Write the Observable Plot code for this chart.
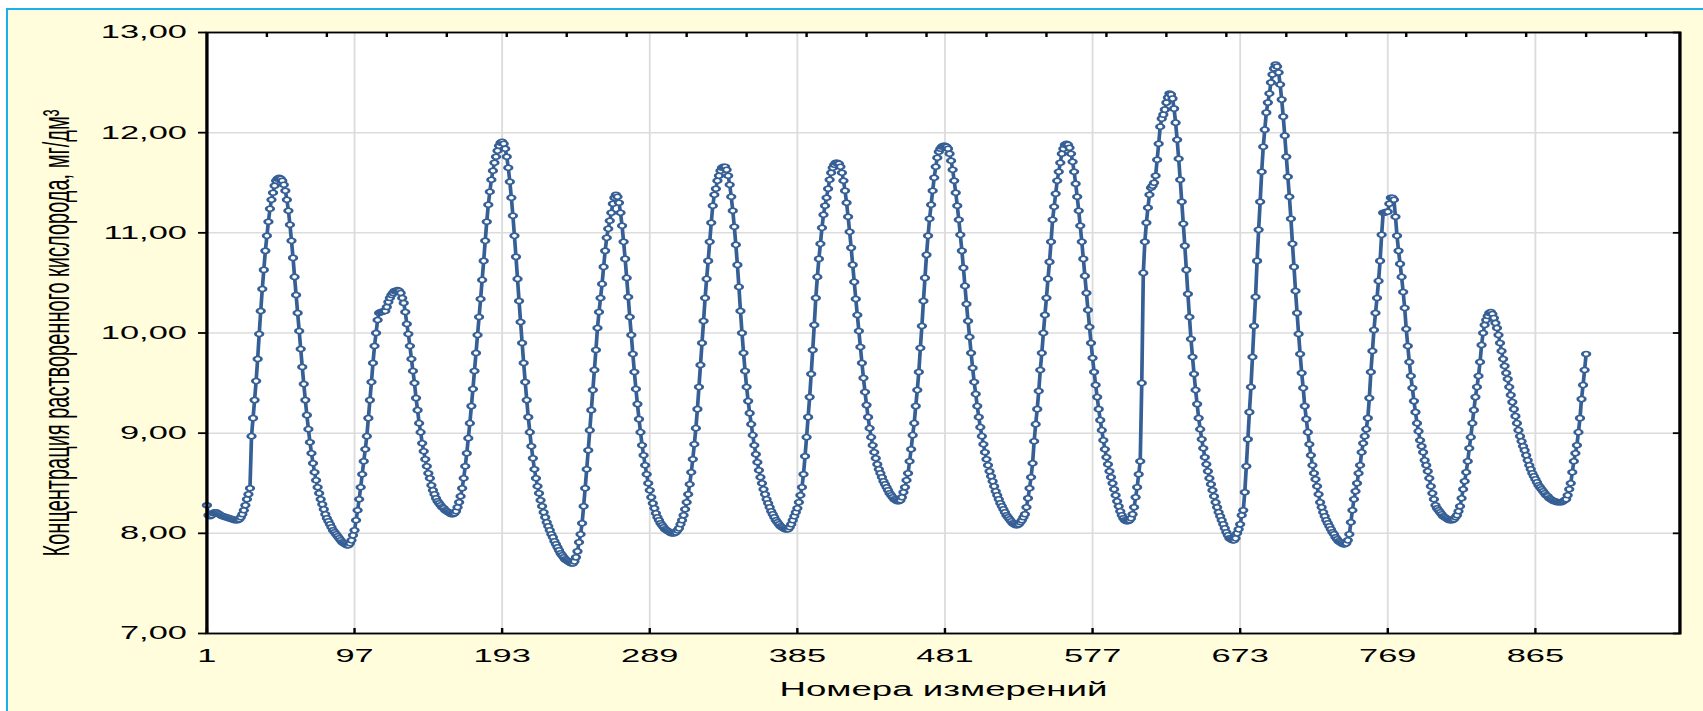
<!DOCTYPE html>
<html>
<head>
<meta charset="utf-8">
<script src="https://cdn.jsdelivr.net/npm/d3@7"></script>
<script src="https://cdn.jsdelivr.net/npm/@observablehq/plot@0.6"></script>
<style>
  html, body { margin: 0; padding: 0; background: #ffffff; }
  #wrap { position: relative; width: 1703px; height: 711px; overflow: hidden; background: #ffffff; }
  #panel { position: absolute; left: 6px; top: 8px; right: 0; bottom: 0; background: #FFFDDC;
           border-left: 2px solid #1AB0EC; border-top: 2px solid #1AB0EC; }
  #chart { position: absolute; left: 0; top: 0; }
</style>
</head>
<body>
<div id="wrap"><div id="panel"></div><div id="chart"></div></div>
<script>
// Concentration of dissolved oxygen, mg/dm3, measurement 1..N
const oxygen = [
  // 1-49
  8.28, 8.18, 8.17, 8.18, 8.20, 8.21, 8.21, 8.20, 8.19, 8.18,
  8.17, 8.17, 8.16, 8.16, 8.15, 8.15, 8.14, 8.14, 8.13, 8.13,
  8.13, 8.14, 8.16, 8.19, 8.23, 8.28, 8.34, 8.39, 8.45, 8.97,
  9.15, 9.33, 9.52, 9.74, 9.99, 10.22, 10.44, 10.63, 10.82, 10.97,
  11.11, 11.24, 11.33, 11.40, 11.47, 11.52, 11.54, 11.55, 11.54,
  // 50-93
  11.52, 11.48, 11.42, 11.33, 11.22, 11.08, 10.92, 10.75, 10.56, 10.38,
  10.20, 10.02, 9.84, 9.66, 9.49, 9.33, 9.18, 9.04, 8.91, 8.80,
  8.70, 8.61, 8.53, 8.46, 8.40, 8.34, 8.29, 8.24, 8.19, 8.15,
  8.12, 8.09, 8.06, 8.03, 8.01, 7.99, 7.97, 7.95, 7.93, 7.91,
  7.90, 7.89, 7.88, 7.88,
  // 94-126
  7.90, 7.93, 7.98, 8.03, 8.13, 8.23, 8.34, 8.46, 8.59, 8.72,
  8.84, 8.97, 9.15, 9.33, 9.51, 9.70, 9.87, 10.00, 10.13, 10.20,
  10.21, 10.21, 10.22, 10.22, 10.26, 10.31, 10.35, 10.38, 10.40, 10.42,
  10.42, 10.43, 10.42,
  // 127-161
  10.40, 10.35, 10.30, 10.21, 10.09, 9.99, 9.87, 9.74, 9.62, 9.50,
  9.35, 9.23, 9.10, 9.01, 8.90, 8.82, 8.74, 8.67, 8.60, 8.55,
  8.48, 8.43, 8.39, 8.35, 8.32, 8.30, 8.28, 8.26, 8.25, 8.23,
  8.22, 8.21, 8.20, 8.19, 8.19,
  // 162-193
  8.20, 8.22, 8.26, 8.31, 8.37, 8.45, 8.55, 8.67, 8.80, 8.95,
  9.10, 9.27, 9.44, 9.62, 9.80, 9.98, 10.16, 10.34, 10.53, 10.72,
  10.92, 11.11, 11.28, 11.41, 11.53, 11.62, 11.70, 11.76, 11.82, 11.87,
  11.90, 11.91,
  // 194-239
  11.89, 11.84, 11.76, 11.65, 11.51, 11.35, 11.17, 10.97, 10.76, 10.54,
  10.32, 10.11, 9.90, 9.70, 9.51, 9.33, 9.16, 9.01, 8.87, 8.75,
  8.64, 8.55, 8.47, 8.40, 8.33, 8.27, 8.21, 8.16, 8.11, 8.07,
  8.03, 7.99, 7.96, 7.92, 7.89, 7.86, 7.83, 7.80, 7.78, 7.76,
  7.74, 7.73, 7.72, 7.71, 7.70, 7.70,
  // 240-267
  7.72, 7.76, 7.82, 7.91, 7.99, 8.10, 8.27, 8.45, 8.64, 8.83,
  9.03, 9.23, 9.43, 9.63, 9.83, 10.05, 10.21, 10.35, 10.49, 10.66,
  10.82, 10.95, 11.04, 11.12, 11.20, 11.29, 11.35, 11.38,
  // 268-305
  11.36, 11.30, 11.20, 11.07, 10.91, 10.74, 10.55, 10.36, 10.16, 9.98,
  9.79, 9.61, 9.44, 9.29, 9.14, 9.01, 8.88, 8.78, 8.68, 8.59,
  8.50, 8.43, 8.36, 8.30, 8.25, 8.20, 8.16, 8.13, 8.10, 8.08,
  8.06, 8.04, 8.03, 8.02, 8.01, 8.00, 8.00, 8.00,
  // 306-338
  8.01, 8.03, 8.05, 8.09, 8.13, 8.18, 8.24, 8.31, 8.39, 8.49,
  8.61, 8.74, 8.89, 9.05, 9.24, 9.46, 9.68, 9.90, 10.12, 10.35,
  10.54, 10.72, 10.91, 11.10, 11.27, 11.38, 11.44, 11.52, 11.57, 11.62,
  11.65, 11.66, 11.66,
  // 339-379
  11.63, 11.57, 11.48, 11.36, 11.22, 11.06, 10.88, 10.68, 10.46, 10.22,
  10.00, 9.80, 9.62, 9.46, 9.32, 9.20, 9.09, 8.98, 8.88, 8.79,
  8.71, 8.63, 8.56, 8.50, 8.44, 8.39, 8.34, 8.30, 8.26, 8.22,
  8.19, 8.16, 8.13, 8.11, 8.09, 8.07, 8.06, 8.05, 8.04, 8.04,
  8.04,
  // 380-412
  8.06, 8.09, 8.13, 8.17, 8.21, 8.25, 8.31, 8.38, 8.46, 8.59,
  8.77, 8.96, 9.16, 9.36, 9.59, 9.83, 10.08, 10.35, 10.56, 10.74,
  10.89, 11.05, 11.18, 11.27, 11.35, 11.44, 11.53, 11.60, 11.65, 11.68,
  11.70, 11.70, 11.69,
  // 413-451
  11.66, 11.60, 11.52, 11.42, 11.30, 11.16, 11.01, 10.85, 10.68, 10.51,
  10.34, 10.18, 10.02, 9.86, 9.70, 9.55, 9.41, 9.28, 9.16, 9.05,
  8.96, 8.88, 8.81, 8.75, 8.69, 8.64, 8.60, 8.56, 8.52, 8.49,
  8.46, 8.43, 8.40, 8.38, 8.36, 8.34, 8.33, 8.32, 8.32,
  // 452-482
  8.33, 8.36, 8.41, 8.46, 8.53, 8.60, 8.72, 8.84, 8.98, 9.10,
  9.27, 9.43, 9.61, 9.85, 10.07, 10.32, 10.55, 10.78, 10.97, 11.14,
  11.28, 11.42, 11.55, 11.66, 11.75, 11.81, 11.84, 11.86, 11.87, 11.87,
  11.86,
  // 483-528
  11.84, 11.79, 11.72, 11.63, 11.52, 11.40, 11.27, 11.13, 10.98, 10.82,
  10.65, 10.47, 10.29, 10.12, 9.96, 9.80, 9.65, 9.51, 9.39, 9.27,
  9.16, 9.06, 8.97, 8.89, 8.81, 8.74, 8.68, 8.62, 8.57, 8.52,
  8.47, 8.42, 8.38, 8.34, 8.30, 8.27, 8.24, 8.21, 8.18, 8.16,
  8.14, 8.12, 8.10, 8.09, 8.08, 8.08,
  // 529-561
  8.09, 8.11, 8.13, 8.16, 8.19, 8.26, 8.35, 8.45, 8.56, 8.70,
  8.92, 9.09, 9.24, 9.42, 9.63, 9.80, 10.00, 10.18, 10.35, 10.54,
  10.71, 10.91, 11.13, 11.26, 11.39, 11.52, 11.61, 11.70, 11.79, 11.84,
  11.88, 11.89, 11.88,
  // 562-600
  11.85, 11.79, 11.71, 11.61, 11.49, 11.36, 11.22, 11.07, 10.91, 10.74,
  10.57, 10.40, 10.23, 10.06, 9.90, 9.75, 9.61, 9.48, 9.36, 9.24,
  9.13, 9.03, 8.93, 8.84, 8.76, 8.69, 8.62, 8.56, 8.50, 8.44,
  8.38, 8.32, 8.27, 8.22, 8.18, 8.15, 8.13, 8.12, 8.12,
  // 601-628
  8.13, 8.15, 8.19, 8.26, 8.36, 8.46, 8.59, 8.72, 9.50, 10.60,
  10.91, 11.10, 11.25, 11.38, 11.45, 11.47, 11.50, 11.57, 11.73, 11.89,
  12.06, 12.14, 12.18, 12.23, 12.30, 12.35, 12.39, 12.38,
  // 629-669
  12.34, 12.24, 12.10, 11.93, 11.74, 11.53, 11.31, 11.09, 10.87, 10.63,
  10.39, 10.16, 9.94, 9.76, 9.59, 9.43, 9.29, 9.15, 9.04, 8.94,
  8.85, 8.76, 8.69, 8.62, 8.55, 8.49, 8.43, 8.37, 8.31, 8.26,
  8.21, 8.17, 8.13, 8.09, 8.05, 8.01, 7.98, 7.95, 7.94, 7.93,
  7.93,
  // 670-697
  7.95, 8.00, 8.04, 8.09, 8.18, 8.23, 8.41, 8.67, 8.94, 9.21,
  9.46, 9.76, 10.07, 10.36, 10.72, 11.03, 11.31, 11.61, 11.86, 12.03,
  12.20, 12.30, 12.39, 12.50, 12.58, 12.64, 12.68, 12.66,
  // 698-741
  12.60, 12.48, 12.33, 12.16, 11.97, 11.76, 11.56, 11.36, 11.14, 10.89,
  10.66, 10.42, 10.20, 9.99, 9.79, 9.60, 9.45, 9.27, 9.14, 9.01,
  8.89, 8.78, 8.68, 8.60, 8.54, 8.47, 8.39, 8.31, 8.26, 8.21,
  8.17, 8.13, 8.10, 8.07, 8.04, 8.01, 7.99, 7.96, 7.94, 7.92,
  7.91, 7.90, 7.89, 7.89,
  // 742-773
  7.90, 7.93, 7.99, 8.11, 8.23, 8.34, 8.42, 8.50, 8.60, 8.68,
  8.81, 8.90, 8.97, 9.04, 9.15, 9.35, 9.61, 9.82, 10.03, 10.20,
  10.35, 10.52, 10.72, 10.98, 11.20, 11.20, 11.21, 11.21, 11.29, 11.35,
  11.35, 11.33,
  // 774-810
  11.16, 10.97, 10.82, 10.69, 10.56, 10.41, 10.25, 10.04, 9.87, 9.71,
  9.57, 9.45, 9.32, 9.21, 9.10, 9.02, 8.93, 8.87, 8.81, 8.73,
  8.68, 8.62, 8.55, 8.47, 8.40, 8.34, 8.28, 8.25, 8.23, 8.21,
  8.19, 8.17, 8.16, 8.15, 8.14, 8.13, 8.13,
  // 811-836
  8.13, 8.14, 8.16, 8.18, 8.22, 8.27, 8.35, 8.44, 8.52, 8.61,
  8.72, 8.85, 8.96, 9.10, 9.23, 9.36, 9.46, 9.57, 9.71, 9.88,
  10.00, 10.08, 10.13, 10.17, 10.20, 10.21,
  // 837-882
  10.19, 10.15, 10.10, 10.05, 9.98, 9.90, 9.82, 9.74, 9.67, 9.60,
  9.54, 9.46, 9.38, 9.31, 9.24, 9.17, 9.10, 9.03, 8.97, 8.92,
  8.87, 8.83, 8.78, 8.73, 8.68, 8.64, 8.60, 8.57, 8.54, 8.51,
  8.48, 8.46, 8.44, 8.42, 8.40, 8.38, 8.37, 8.35, 8.34, 8.33,
  8.32, 8.32, 8.31, 8.31, 8.31, 8.31,
  // 883-898
  8.32, 8.33, 8.34, 8.38, 8.44, 8.50, 8.61, 8.72, 8.80, 8.88,
  9.01, 9.15, 9.34, 9.48, 9.63, 9.79
];

const xTicks = [1, 97, 193, 289, 385, 481, 577, 673, 769, 865];
const topTicks = [40, 79, 118, 157, 196, 235, 274, 313, 352, 391, 430, 469,
                  508, 547, 586, 625, 664, 703, 742, 781, 820, 859, 898, 937];
const yTicks = [7, 8, 9, 10, 11, 12, 13];
const xDomain = [1, 959];
const yDomain = [7, 13];
const xLabel = "Номера измерений";
const yLabel = "Концентрация растворенного кислорода, мг/дм³";

const data = oxygen.map((v, i) => ({n: i + 1, v}));

// The reference image is stretched horizontally; draw in a narrower space and stretch.
const S = 1.85;
const W = 1703, H = 711;
const w0 = W / S;

const ellipse = {
  draw(context, size) {
    const ry = Math.sqrt(size / Math.PI);
    const rx = ry * 0.8;
    const k = 0.5523;
    context.moveTo(rx, 0);
    context.bezierCurveTo(rx, k * ry, k * rx, ry, 0, ry);
    context.bezierCurveTo(-k * rx, ry, -rx, k * ry, -rx, 0);
    context.bezierCurveTo(-rx, -k * ry, -k * rx, -ry, 0, -ry);
    context.bezierCurveTo(k * rx, -ry, rx, -k * ry, rx, 0);
    context.closePath();
  }
};

const fmt = d => d.toFixed(2).replace(".", ",");
const blue = "#355F95";

const chart = Plot.plot({
  width: w0,
  height: H,
  marginLeft: 206 / S,
  marginRight: 24 / S,
  marginTop: 32,
  marginBottom: 78,
  style: {background: "transparent", color: "#000", fontFamily: "'Liberation Sans', Arial, sans-serif", overflow: "visible"},
  x: {domain: xDomain},
  y: {domain: yDomain},
  marks: [
    Plot.frame({fill: "white", stroke: null}),
    Plot.gridX(xTicks, {stroke: "#dcdcdc", strokeOpacity: 1, strokeWidth: 1}),
    Plot.gridY(yTicks, {stroke: "#dcdcdc", strokeOpacity: 1, strokeWidth: 1.5}),
    Plot.line(data, {x: "n", y: "v", stroke: blue, strokeWidth: 2}),
    Plot.dot(data, {x: "n", y: "v", r: 2.55, symbol: ellipse, stroke: blue, strokeWidth: 1.5, fill: "white"}),
    Plot.frame({stroke: "#000", strokeWidth: 1.8}),
    Plot.axisY({ticks: yTicks, anchor: "left", tickSize: 8 / S, tickPadding: 12 / S, tickFormat: fmt,
                fontSize: 18.6, strokeWidth: 1.8, label: null}),
    Plot.axisY({ticks: yTicks, anchor: "right", tickSize: -8 / S, strokeWidth: 1.8, fill: "none", label: null}),
    Plot.axisX({ticks: xTicks, anchor: "bottom", tickSize: -5, tickPadding: 20, tickFormat: d => String(d),
                fontSize: 18.6, strokeWidth: 1.3, label: null}),
    Plot.axisX({ticks: topTicks, anchor: "top", tickSize: -4, strokeWidth: 1.3, fill: "none", label: null}),
    Plot.axisY({ticks: [], anchor: "left", tickSize: 0, label: yLabel, labelAnchor: "center",
                labelArrow: "none", labelOffset: 89, fontSize: 20}),
    Plot.axisX({ticks: [], anchor: "bottom", tickSize: 0, label: xLabel, labelAnchor: "center",
                labelArrow: "none", labelOffset: 62, fontSize: 19.8})
  ]
});

chart.setAttribute("viewBox", `0 0 ${w0} ${H}`);
chart.setAttribute("preserveAspectRatio", "none");
chart.setAttribute("width", W);
chart.setAttribute("height", H);
chart.style.width = W + "px";
chart.style.height = H + "px";
chart.style.maxWidth = "none";
chart.style.background = "transparent";
document.getElementById("chart").appendChild(chart);
</script>
</body>
</html>
